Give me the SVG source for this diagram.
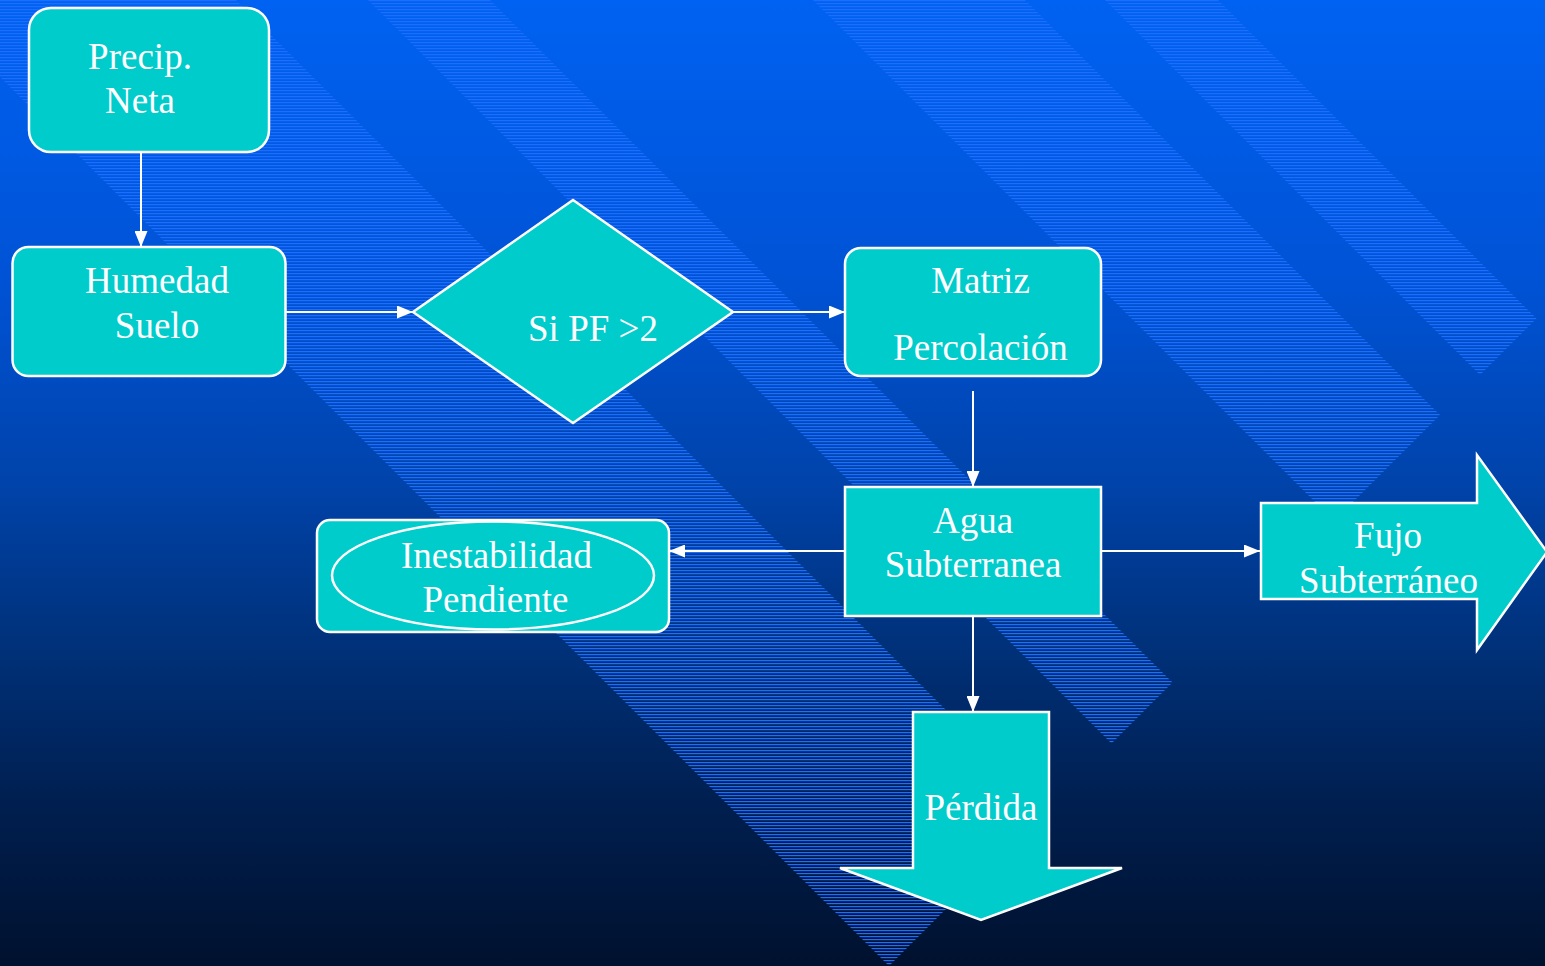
<svg xmlns="http://www.w3.org/2000/svg" width="1545" height="966" viewBox="0 0 1545 966">
<defs>
  <linearGradient id="bg" x1="0" y1="0" x2="0" y2="1">
    <stop offset="0" stop-color="#0062f2"/>
    <stop offset="0.3" stop-color="#0052d4"/>
    <stop offset="0.5" stop-color="#0043aa"/>
    <stop offset="0.66" stop-color="#00327c"/>
    <stop offset="0.83" stop-color="#001f50"/>
    <stop offset="1" stop-color="#00112e"/>
  </linearGradient>
  <pattern id="hatch" patternUnits="userSpaceOnUse" width="8" height="3">
    <rect x="0" y="0" width="8" height="1.2" fill="#1c6eff"/>
  </pattern>
  <marker id="ah" viewBox="0 0 16 13" refX="16" refY="6.5" markerWidth="16" markerHeight="13" markerUnits="userSpaceOnUse" orient="auto">
    <path d="M0,0 L16,6.5 L0,13 z" fill="#ffffff"/>
  </marker>
  <style>
    .node { fill: #00cccc; stroke: #ffffff; stroke-width: 2.5; }
    .lbl { font-family: "Liberation Serif", "Times New Roman", serif; font-size: 37px; fill: #ffffff; text-anchor: middle; }
    .conn { stroke: #ffffff; stroke-width: 2; fill: none; marker-end: url(#ah); }
    .band { fill: url(#hatch); }
  </style>
</defs>

<rect x="0" y="0" width="1545" height="966" fill="url(#bg)"/>

<g id="bands">
  <polygon class="band" points="-127,-50 186,-50 1045.5,809.5 889,966"/>
  <polygon class="band" points="318,-50 440,-50 1172.5,682.5 1111.5,743.5"/>
  <polygon class="band" points="763,-50 975,-50 1440,415 1334,521"/>
  <polygon class="band" points="1055,-50 1168,-50 1536.5,318.5 1480,375"/>
</g>

<g id="connectors">
  <line class="conn" x1="141" y1="152" x2="141" y2="247"/>
  <line class="conn" x1="286" y1="312" x2="413" y2="312"/>
  <line class="conn" x1="733" y1="312" x2="845" y2="312"/>
  <line class="conn" x1="973" y1="391" x2="973" y2="487"/>
  <line class="conn" x1="845" y1="551" x2="669" y2="551"/>
  <line class="conn" x1="1101" y1="551" x2="1260" y2="551"/>
  <line class="conn" x1="973" y1="616" x2="973" y2="712"/>
</g>

<g id="precip">
  <rect class="node" x="29" y="8" width="240" height="144" rx="22" ry="22"/>
  <text class="lbl" x="140" y="69">Precip.</text>
  <text class="lbl" x="140" y="113">Neta</text>
</g>

<g id="humedad">
  <rect class="node" x="12.5" y="247" width="273" height="129" rx="16" ry="16"/>
  <text class="lbl" x="157" y="293">Humedad</text>
  <text class="lbl" x="157" y="338">Suelo</text>
</g>

<g id="decision">
  <polygon class="node" points="573,200 733,312 573,423 413,312"/>
  <text class="lbl" x="593" y="341">Si PF &gt;2</text>
</g>

<g id="matriz">
  <rect class="node" x="845" y="248" width="256" height="128" rx="16" ry="16"/>
  <text class="lbl" x="980.5" y="293">Matriz</text>
  <text class="lbl" x="980.5" y="360">Percolación</text>
</g>

<g id="agua">
  <rect class="node" x="845" y="487" width="256" height="129"/>
  <text class="lbl" x="973" y="533">Agua</text>
  <text class="lbl" x="973" y="577">Subterranea</text>
</g>

<g id="inestabilidad">
  <rect class="node" x="317" y="520" width="352" height="112" rx="13" ry="13"/>
  <ellipse class="node" cx="493" cy="575.5" rx="161" ry="54"/>
  <text class="lbl" x="496.5" y="568">Inestabilidad</text>
  <text class="lbl" x="495.5" y="612">Pendiente</text>
</g>

<g id="fujo">
  <polygon class="node" points="1261,503 1477,503 1477,455 1547,552 1477,650 1477,599 1261,599"/>
  <text class="lbl" x="1388" y="548">Fujo</text>
  <text class="lbl" x="1388.5" y="593">Subterráneo</text>
</g>

<g id="perdida">
  <polygon class="node" points="913,712 1049,712 1049,868 1122,868 981,920 840,868 913,868"/>
  <text class="lbl" x="981" y="820">Pérdida</text>
</g>
</svg>
